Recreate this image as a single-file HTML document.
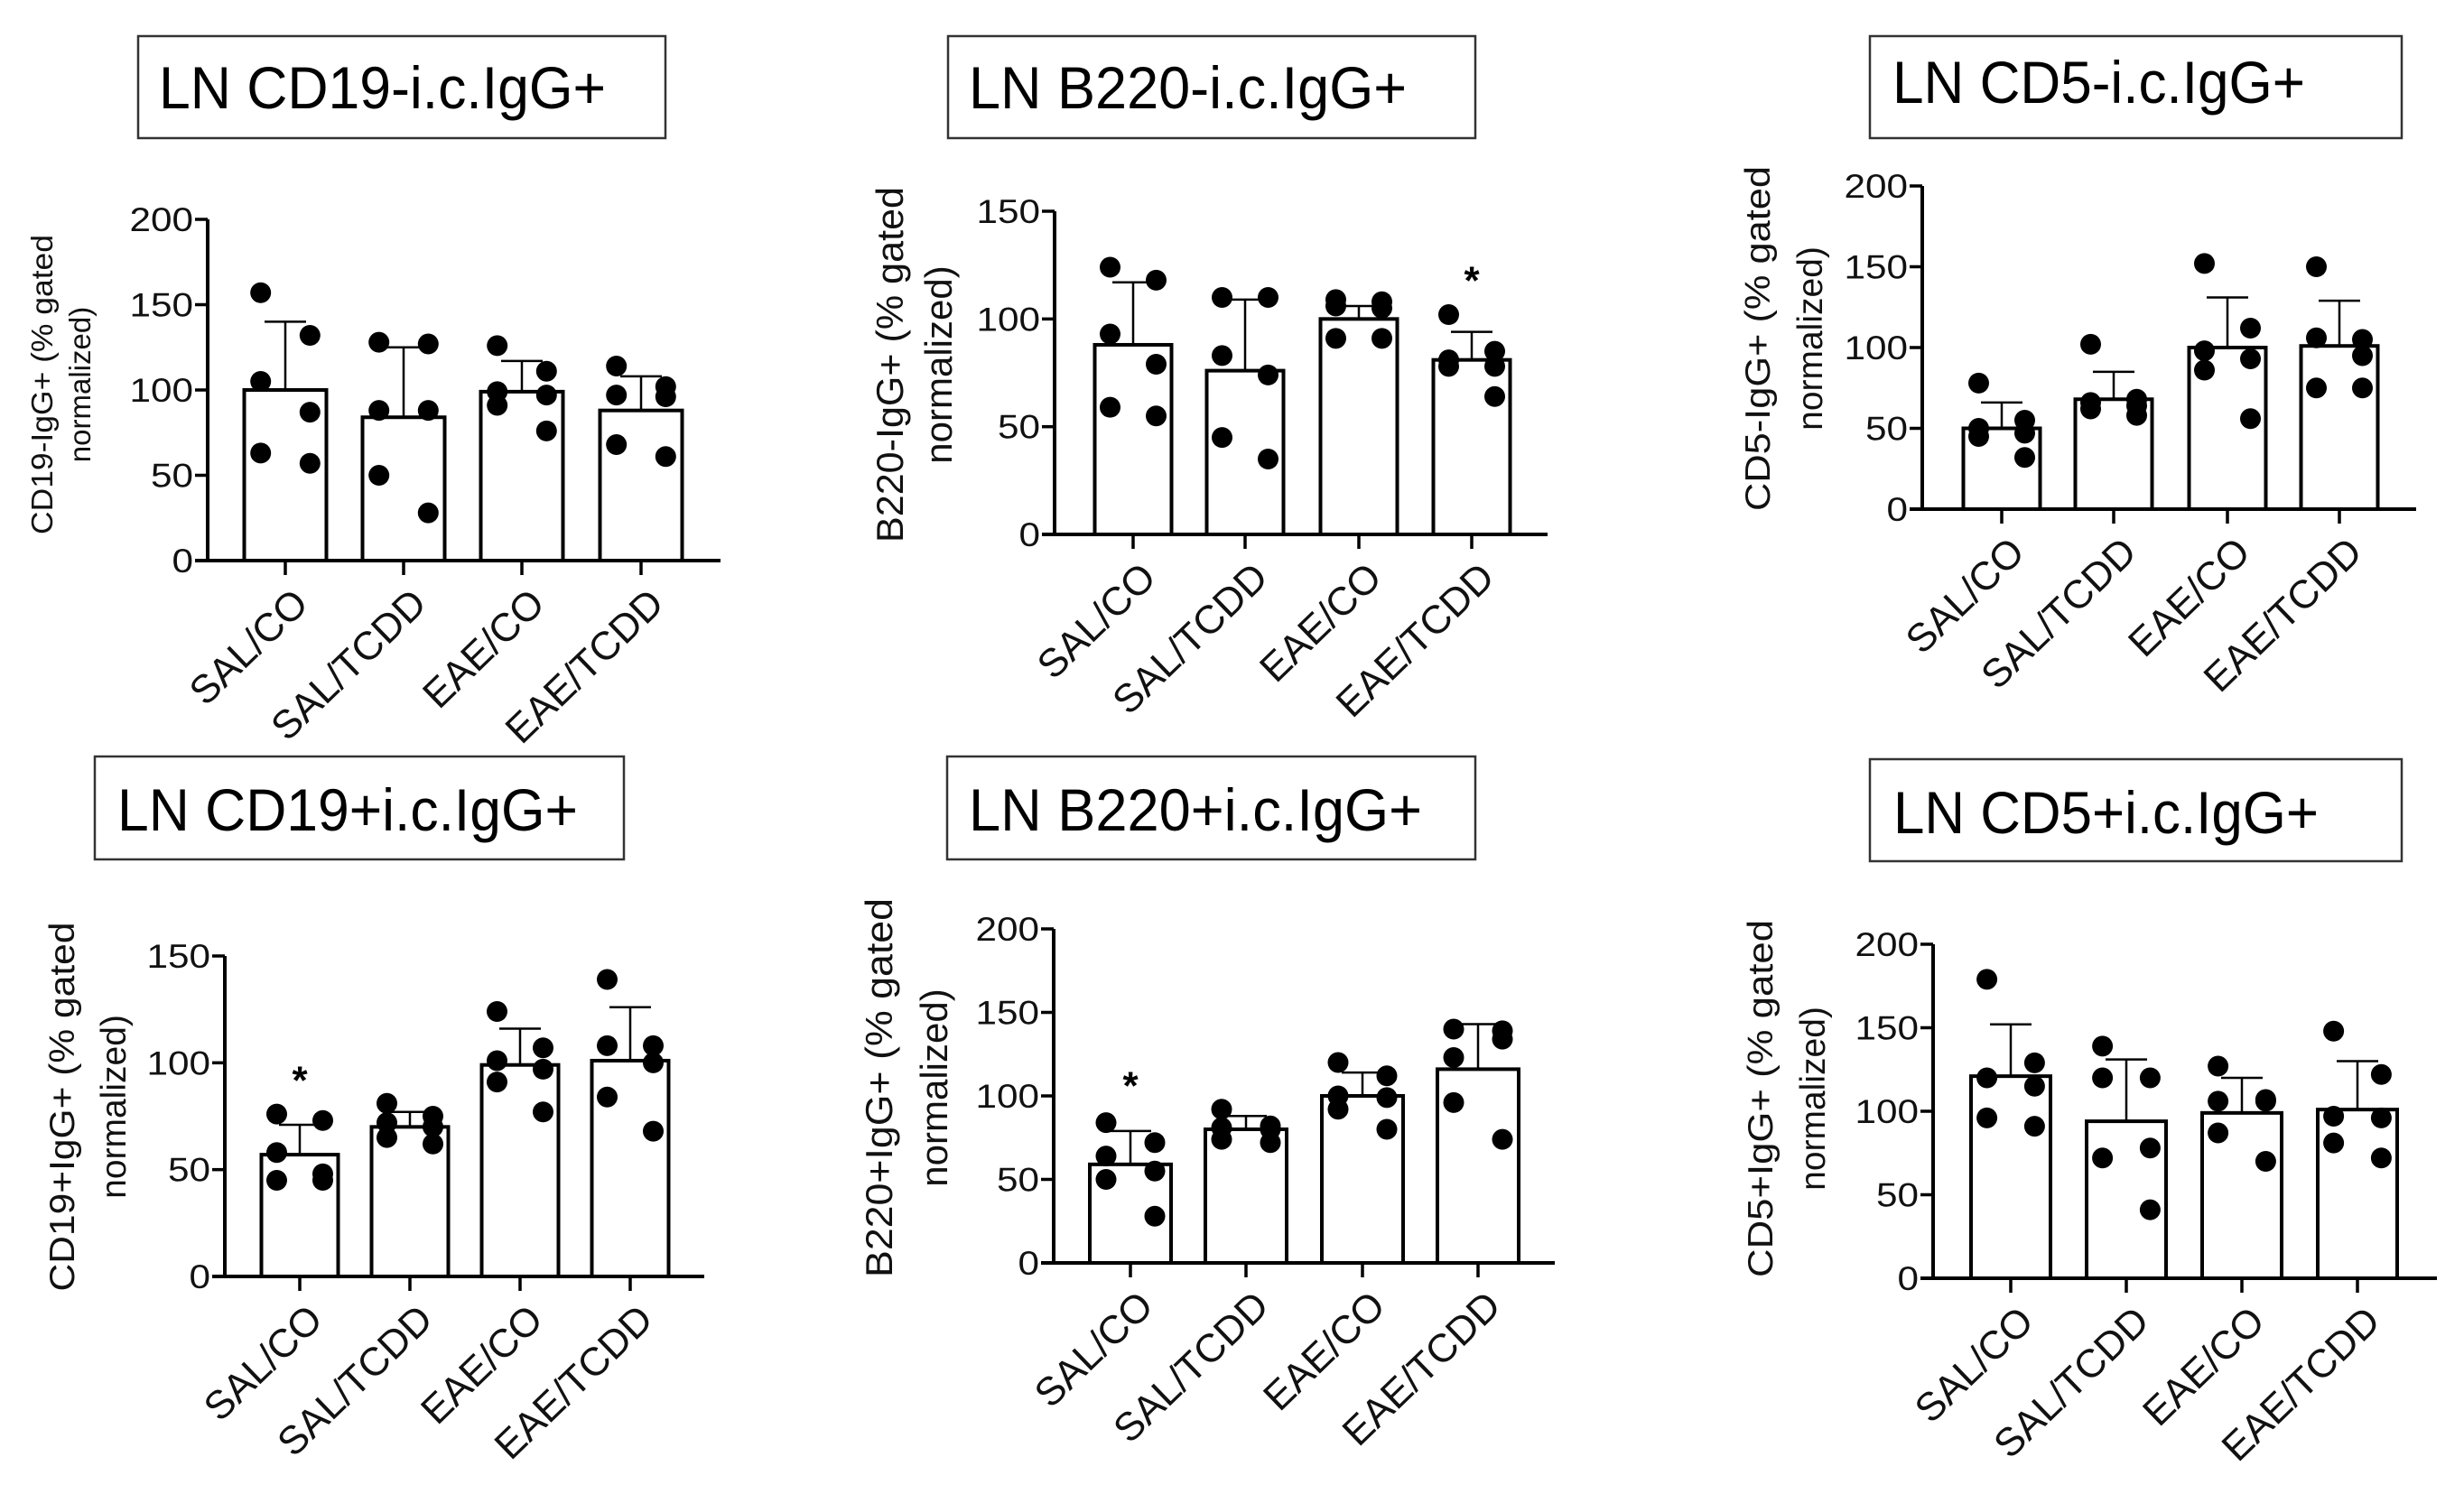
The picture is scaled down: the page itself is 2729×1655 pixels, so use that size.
<!DOCTYPE html>
<html><head><meta charset="utf-8">
<style>
html,body{margin:0;padding:0;background:#fff;}
svg{display:block;font-family:"Liberation Sans",Arial,sans-serif;}
</style></head>
<body>
<svg id="fig" width="2729" height="1655" viewBox="0 0 2729 1655" xmlns="http://www.w3.org/2000/svg"></svg>
<script>
// ---- shared categories ----
const categories = ["SAL/CO","SAL/TCDD","EAE/CO","EAE/TCDD"];

// ---- panel 1: LN CD19-i.c.IgG+ ----
const p1Means = [100, 84, 99, 88];
const p1Errs = [140, 125, 117, 108];
const p1Points = [[157,132,105,87,63,57],[128,127,88,88,50,28],[126,111,99,97,91,76],[114,102,97,96,68,61]];
const p1Ticks = [0,50,100,150,200];
const p1Stars = [null,null,null,null];

// ---- panel 2: LN B220-i.c.IgG+ ----
const p2Means = [88, 76, 100, 81];
const p2Errs = [117, 109, 106, 94];
const p2Points = [[124,118,93,79,59,55],[110,110,83,74,45,35],[109,108,106,105,91,91],[102,85,81,78,78,64]];
const p2Ticks = [0,50,100,150];
const p2Stars = [null,null,null,120];

// ---- panel 3: LN CD5-i.c.IgG+ ----
const p3Means = [50, 68, 100, 101];
const p3Errs = [66, 85, 131, 129];
const p3Points = [[78,55,50,47,45,32],[102,68,66,64,62,58],[152,112,98,93,86,56],[150,105,106,95,75,75]];
const p3Ticks = [0,50,100,150,200];
const p3Stars = [null,null,null,null];

// ---- panel 4: LN CD19+i.c.IgG+ ----
const p4Means = [57, 70, 99, 101];
const p4Errs = [71, 77, 116, 126];
const p4Points = [[76,73,58,48,45,45],[81,75,72,70,65,62],[124,107,101,97,91,77],[139,108,108,100,84,68]];
const p4Ticks = [0,50,100,150];
const p4Stars = [94,null,null,null];

// ---- panel 5: LN B220+i.c.IgG+ ----
const p5Means = [59, 80, 100, 116];
const p5Errs = [79, 88, 114, 143];
const p5Points = [[84,72,64,55,50,28],[92,82,81,80,74,72],[120,112,100,99,92,80],[140,139,123,134,96,74]];
const p5Ticks = [0,50,100,150,200];
const p5Stars = [109,null,null,null];

// ---- panel 6: LN CD5+i.c.IgG+ ----
const p6Means = [121, 94, 99, 101];
const p6Errs = [152, 131, 120, 130];
const p6Points = [[179,129,120,115,96,91],[139,120,120,78,72,41],[127,107,106,106,87,70],[148,122,97,96,81,72]];
const p6Ticks = [0,50,100,150,200];
const p6Stars = [null,null,null,null];

const NS = "http://www.w3.org/2000/svg";
const svg = document.getElementById('fig');
function mk(tag, attrs, parent){
  const e = document.createElementNS(NS, tag);
  for (const k in attrs) e.setAttribute(k, attrs[k]);
  (parent||svg).appendChild(e);
  return e;
}

// layout (pixel geometry) per panel
const layouts = [
  {id:'p1', title:"LN CD19-i.c.IgG+", box:[153,40,737,153], tx:176, tLen:495, tBase:120,
   ax:230, y0:621, yTop:243, yMax:200, xEnd:798, centers:[316,447,578,710], bw:91,
   yl1:"CD19-IgG+ (% gated", yl2:"normalized)", ylx:[58,100], ylc:426, ylLen:332, ylFs:33,
   means:p1Means, errs:p1Errs, pts:p1Points, ticks:p1Ticks, stars:p1Stars},
  {id:'p2', title:"LN B220-i.c.IgG+", box:[1050,40,1634,153], tx:1073, tLen:485, tBase:120,
   ax:1168, y0:592, yTop:234, yMax:150, xEnd:1714, centers:[1255,1379,1505,1630], bw:85,
   yl1:"B220-IgG+ (% gated", yl2:"normalized)", ylx:[1000,1054], ylc:404, ylLen:394, ylFs:42,
   means:p2Means, errs:p2Errs, pts:p2Points, ticks:p2Ticks, stars:p2Stars},
  {id:'p3', title:"LN CD5-i.c.IgG+", box:[2071,40,2660,153], tx:2096, tLen:457, tBase:114,
   ax:2129, y0:564, yTop:206, yMax:200, xEnd:2676, centers:[2217,2341,2467,2591], bw:85,
   yl1:"CD5-IgG+ (% gated", yl2:"normalized)", ylx:[1960,2018], ylc:375, ylLen:382, ylFs:39,
   means:p3Means, errs:p3Errs, pts:p3Points, ticks:p3Ticks, stars:p3Stars},
  {id:'p4', title:"LN CD19+i.c.IgG+", box:[105,838,691,952], tx:130, tLen:510, tBase:920,
   ax:249, y0:1414, yTop:1059, yMax:150, xEnd:780, centers:[332,454,576,698], bw:85,
   yl1:"CD19+IgG+ (% gated", yl2:"normalized)", ylx:[82,139], ylc:1226, ylLen:409, ylFs:39,
   means:p4Means, errs:p4Errs, pts:p4Points, ticks:p4Ticks, stars:p4Stars},
  {id:'p5', title:"LN B220+i.c.IgG+", box:[1049,838,1634,952], tx:1073, tLen:502, tBase:920,
   ax:1167, y0:1399, yTop:1029, yMax:200, xEnd:1722, centers:[1252,1380,1509,1637], bw:90,
   yl1:"B220+IgG+ (% gated", yl2:"normalized)", ylx:[988,1049], ylc:1205, ylLen:420, ylFs:42,
   means:p5Means, errs:p5Errs, pts:p5Points, ticks:p5Ticks, stars:p5Stars},
  {id:'p6', title:"LN CD5+i.c.IgG+", box:[2071,841,2660,954], tx:2097, tLen:471, tBase:923,
   ax:2141, y0:1416, yTop:1046, yMax:200, xEnd:2699, centers:[2227,2355,2483,2611], bw:88,
   yl1:"CD5+IgG+ (% gated", yl2:"normalized)", ylx:[1963,2021], ylc:1217, ylLen:396, ylFs:39,
   means:p6Means, errs:p6Errs, pts:p6Points, ticks:p6Ticks, stars:p6Stars}
];

const jitter = [-0.3,0.3,-0.3,0.3,-0.3,0.3];

layouts.forEach(L => {
  const g = mk('g', {});
  
  
  const yScale = v => L.y0 - (v / L.yMax) * (L.y0 - L.yTop);

  // title box
  const tb = mk('rect', {x:L.box[0], y:L.box[1], width:L.box[2]-L.box[0], height:L.box[3]-L.box[1], fill:'#fff', stroke:'#333', 'stroke-width':2.5}, g);
  
  
  const tt = mk('text', {x:L.tx, y:L.tBase, 'font-size':66, fill:'#000', textLength:L.tLen, lengthAdjust:'spacingAndGlyphs'}, g);
  tt.textContent = L.title;
  
  

  // y axis label
  [L.yl1, L.yl2].forEach((txt, i) => {
    const t = mk('text', {x:0, y:0, 'font-size':L.ylFs, 'text-anchor':'middle', fill:'#111',
      transform:`translate(${L.ylx[i]},${L.ylc}) rotate(-90)`}, g);
    if (i === 0) { t.setAttribute('textLength', L.ylLen); t.setAttribute('lengthAdjust','spacingAndGlyphs'); }
    t.textContent = txt;
    
    
  });

  // bars
  L.means.forEach((m, i) => {
    const cx = L.centers[i];
    const b = mk('rect', {x:cx - L.bw/2, y:yScale(m), width:L.bw, height:L.y0 - yScale(m), fill:'#fff', stroke:'#000', 'stroke-width':4}, g);
    
    
    const el = mk('line', {x1:cx, x2:cx, y1:yScale(m), y2:yScale(L.errs[i]), stroke:'#000', 'stroke-width':2.5}, g);
    
    
    const ec = mk('line', {x1:cx-23, x2:cx+23, y1:yScale(L.errs[i]), y2:yScale(L.errs[i]), stroke:'#000', 'stroke-width':2.5}, g);
    
    
  });

  // axes
  const yax = mk('line', {x1:L.ax, x2:L.ax, y1:L.yTop, y2:L.y0+2, stroke:'#000', 'stroke-width':4}, g);
  
  
  const xax = mk('line', {x1:L.ax-14, x2:L.xEnd, y1:L.y0, y2:L.y0, stroke:'#000', 'stroke-width':4}, g);
  
  

  L.ticks.forEach(v => {
    const y = yScale(v);
    const tk = mk('line', {x1:L.ax-14, x2:L.ax, y1:y, y2:y, stroke:'#000', 'stroke-width':3.5}, g);
    
    
    const s = String(v);
    const tl = mk('text', {x:L.ax-16, y:y+13, 'font-size':37, 'text-anchor':'end', fill:'#111', textLength:s.length*23.5, lengthAdjust:'spacingAndGlyphs'}, g);
    tl.textContent = s;
    
    
  });

  categories.forEach((c, i) => {
    const cx = L.centers[i];
    const tk = mk('line', {x1:cx, x2:cx, y1:L.y0, y2:L.y0+16, stroke:'#000', 'stroke-width':3.5}, g);
    
    
    const tl = mk('text', {x:0, y:0, 'font-size':44, 'text-anchor':'end', 'dominant-baseline':'hanging', fill:'#111',
      transform:`translate(${cx+6},${L.y0+28}) rotate(-44)`}, g);
    tl.textContent = c;
    
    
  });

  // points
  L.pts.forEach((arr, i) => {
    arr.forEach((v, j) => {
      const d = mk('circle', {cx:L.centers[i] + jitter[j]*L.bw, cy:yScale(v), r:11.5, fill:'#000'}, g);
      
      
    });
  });

  // significance stars
  L.stars.forEach((s, i) => {
    if (s === null) return;
    const st = mk('text', {x:L.centers[i], y:yScale(s)+20, 'font-size':44, 'font-weight':'bold', 'text-anchor':'middle', fill:'#000'}, g);
    st.textContent = '*';
    
    
  });
});
</script>
</body></html>
